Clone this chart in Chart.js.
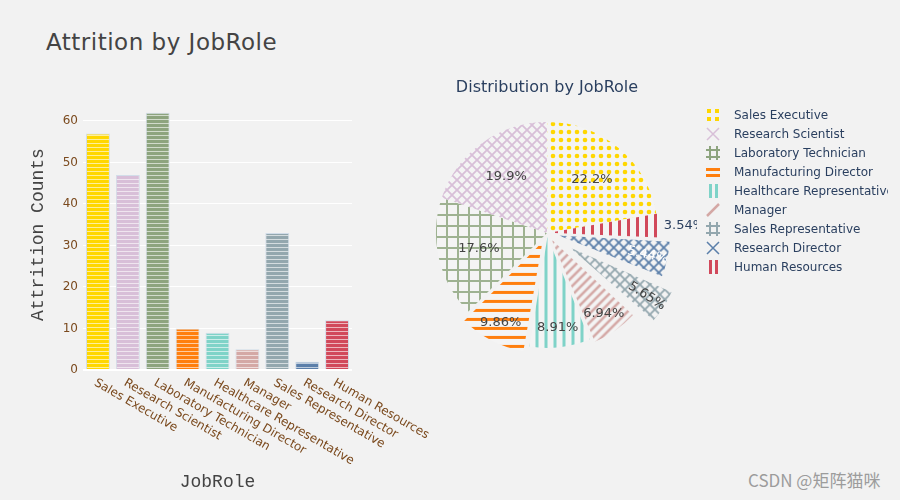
<!DOCTYPE html>
<html>
<head>
<meta charset="utf-8">
<script src="https://cdn.jsdelivr.net/npm/chart.js@4.4.0/dist/chart.umd.min.js"></script>
<style>
body{margin:0;width:900px;height:500px;background:#f2f2f2;position:relative;overflow:hidden;font-family:"DejaVu Sans",sans-serif}
#titulo{position:absolute;left:46px;top:29px;font:23px/26px "Comic Sans MS","DejaVu Sans",sans-serif;letter-spacing:0.5px;color:#444}
#barras{position:absolute;left:0;top:0}
#pastel{position:absolute;left:397px;top:0}
#tituloPie{position:absolute;left:397px;width:300px;top:78px;text-align:center;font:16px/18px "DejaVu Sans";color:#2a3f5f}
#leyenda{position:absolute;left:706px;top:105px;width:182px;overflow:hidden}
.fila{height:19px;display:flex;align-items:center;white-space:nowrap;font:12px "DejaVu Sans";color:#2a3f5f}
.fila canvas{margin-right:14px;flex:none}
#marca{position:absolute;left:748px;top:469px;font:17px/22px "Noto Sans CJK SC",sans-serif;color:#9c9c9c}
</style>
</head>
<body>
<div id="titulo">Attrition by JobRole</div>
<canvas id="barras" width="450" height="500"></canvas>
<canvas id="pastel" width="300" height="466"></canvas>
<div id="tituloPie">Distribution by JobRole</div>
<div id="leyenda"></div>
<div id="marca">CSDN @矩阵猫咪</div>
<script>
// datos
const roles = ["Sales Executive", "Research Scientist", "Laboratory Technician", "Manufacturing Director",
  "Healthcare Representative", "Manager", "Sales Representative", "Research Director", "Human Resources"]
const attrition = [57, 47, 62, 10, 9, 5, 33, 2, 12]
const empleados = [326, 292, 259, 145, 131, 102, 83, 80, 52]
const yTicks = [0, 10, 20, 30, 40, 50, 60]

// estilos
const colores = ["#FFD700", "#D8BFD8", "#8DA47E", "#FF7F0E", "#7FD3C8", "#D4A8A5", "#93A7AE", "#5B7FAA", "#D1495B"]
const formas = [".", "x", "+", "-", "|", "/", "x", "x", "|"]
const iconos = [".", "x", "+", "-", "|", "/", "+", "x", "|"]
const pullPx = [0, 0, 0, 10, 4, 8, 27, 12, 2]
// el pastel va en sentido horario desde las 12
const ordenPie = [0, 8, 7, 6, 5, 4, 3, 2, 1]
const marron = "#7b4a1e"

function mezcla(hex, a) {
  let r = parseInt(hex.slice(1, 3), 16), g = parseInt(hex.slice(3, 5), 16), b = parseInt(hex.slice(5, 7), 16)
  r = Math.round(r + (255 - r) * a); g = Math.round(g + (255 - g) * a); b = Math.round(b + (255 - b) * a)
  return `rgb(${r},${g},${b})`
}

// rayas horizontales de las barras
function rayas(color) {
  let c = document.createElement("canvas")
  c.width = 4; c.height = 4
  let x = c.getContext("2d")
  x.fillStyle = color
  x.fillRect(0, 0, 4, 4)
  x.fillStyle = mezcla(color, 0.6)
  x.fillRect(0, 3, 4, 1)
  return x.createPattern(c, "repeat")
}

function patron(forma, color) {
  let s = forma == "." ? 8 : (forma == "x" ? 10 : (forma == "+" ? 11 : 9))
  let c = document.createElement("canvas")
  c.width = s; c.height = s
  let x = c.getContext("2d")
  x.fillStyle = "#f4f4f4"
  x.fillRect(0, 0, s, s)
  x.fillStyle = color
  x.strokeStyle = color
  if (forma == ".") {
    x.beginPath(); x.arc(s / 2, s / 2, 2.3, 0, Math.PI * 2); x.fill()
  } else if (forma == "-") {
    x.fillRect(0, 3, s, 3)
  } else if (forma == "|") {
    x.fillRect(3, 0, 3, s)
  } else if (forma == "+") {
    x.fillStyle = mezcla(color, 0.15)
    x.fillRect(0, 5, s, 2); x.fillRect(5, 0, 2, s)
  } else if (forma == "x") {
    x.lineWidth = 1.8
    x.beginPath()
    x.moveTo(-1, -1); x.lineTo(s + 1, s + 1)
    x.moveTo(-1, s + 1); x.lineTo(s + 1, -1)
    x.stroke()
  } else if (forma == "/") {
    x.lineWidth = 2.5
    x.beginPath()
    x.moveTo(-2, s + 2); x.lineTo(s + 2, -2)
    x.moveTo(-2, 2); x.lineTo(2, -2)
    x.moveTo(s - 2, s + 2); x.lineTo(s + 2, s - 2)
    x.stroke()
  }
  return x.createPattern(c, "repeat")
}

function icono(forma, color) {
  let c = document.createElement("canvas")
  c.width = 14; c.height = 14
  let x = c.getContext("2d")
  x.fillStyle = color; x.strokeStyle = color
  if (forma == ".") {
    [[1, 1], [9, 1], [1, 9], [9, 9]].forEach(p => x.fillRect(p[0], p[1], 4, 4))
  } else if (forma == "-") {
    x.fillRect(0, 3, 14, 3); x.fillRect(0, 9, 14, 3)
  } else if (forma == "|") {
    x.fillRect(3, 0, 3, 14); x.fillRect(9, 0, 3, 14)
  } else if (forma == "+") {
    x.fillRect(0, 3, 14, 2); x.fillRect(0, 10, 14, 2); x.fillRect(3, 0, 2, 14); x.fillRect(10, 0, 2, 14)
  } else if (forma == "x") {
    x.lineWidth = 1.5
    x.beginPath(); x.moveTo(1, 1); x.lineTo(13, 13); x.moveTo(1, 13); x.lineTo(13, 1); x.stroke()
  } else if (forma == "/") {
    x.lineWidth = 2.5
    x.beginPath(); x.moveTo(1, 13); x.lineTo(13, 1); x.stroke()
  }
  return c
}

// etiquetas del eje x giradas hacia abajo
const etiquetasX = {
  id: "etiquetasX",
  afterDraw(chart) {
    const { ctx, scales: { x }, chartArea } = chart
    ctx.save()
    ctx.font = '12px "DejaVu Sans"'
    ctx.fillStyle = marron
    ctx.textAlign = "left"
    ctx.textBaseline = "middle"
    roles.forEach((r, i) => {
      ctx.save()
      ctx.translate(x.getPixelForValue(i) - 3, chartArea.bottom + 12)
      ctx.rotate(30 * Math.PI / 180)
      ctx.fillText(r, 0, 0)
      ctx.restore()
    })
    ctx.restore()
  }
}

new Chart(document.getElementById("barras"), {
  type: "bar",
  data: {
    labels: roles,
    datasets: [{
      data: attrition,
      backgroundColor: colores.map(c => rayas(c)),
      borderColor: "#d2dde9",
      borderWidth: 1,
      barPercentage: 0.8,
      categoryPercentage: 1
    }]
  },
  options: {
    responsive: false,
    animation: false,
    layout: { padding: { left: 0, right: 98, top: 99, bottom: 0 } },
    plugins: { legend: { display: false }, tooltip: { enabled: false } },
    scales: {
      x: {
        grid: { display: false },
        border: { display: false },
        ticks: { display: false },
        title: { display: true, text: "JobRole", color: "#444", font: { family: "Liberation Mono", size: 18 }, padding: { top: 0, bottom: 7 } },
        afterFit: s => { s.height = 130 }
      },
      y: {
        min: 0,
        max: 65.3,
        afterBuildTicks: s => { s.ticks = yTicks.map(v => ({ value: v })) },
        ticks: { color: marron, font: { family: "DejaVu Sans", size: 12 }, padding: 5 },
        grid: { color: "#ffffff", lineWidth: c => c.tick && c.tick.value == 0 ? 2 : 1, drawTicks: false },
        border: { display: false },
        title: { display: true, text: "Attrition Counts", color: "#444", font: { family: "Liberation Mono", size: 18 }, padding: { top: 27, bottom: 0 } },
        afterFit: s => { s.width = 83 }
      }
    }
  },
  plugins: [etiquetasX]
})

// porcentajes del pastel
const etiquetasPie = {
  id: "etiquetasPie",
  beforeDatasetsDraw(chart) {
    // chart.js agranda el radio de las porciones separadas, lo compenso
    chart.getDatasetMeta(0).data.forEach(arc => {
      if (arc.$r0 === undefined) arc.$r0 = arc.outerRadius
      let off = (arc.options.offset || 0) / 4
      let c = arc.endAngle - arc.startAngle
      arc.outerRadius = arc.$r0 - off * (1 - Math.sin(Math.min(Math.PI, c)))
    })
  },
  afterDatasetsDraw(chart) {
    const ctx = chart.ctx
    const total = empleados.reduce((a, b) => a + b, 0)
    chart.getDatasetMeta(0).data.forEach((arc, j) => {
      let i = ordenPie[j]
      let pct = empleados[i] / total * 100
      let txt = Number(pct.toPrecision(3)) + "%"
      let mid = (arc.startAngle + arc.endAngle) / 2
      let pull = (arc.options.offset || 0) / 4
      let R = arc.$r0
      let cx = arc.x + Math.cos(mid) * pull, cy = arc.y + Math.sin(mid) * pull
      ctx.save()
      ctx.font = '13px "DejaVu Sans"'
      ctx.textBaseline = "middle"
      if (pct < 4) {
        ctx.fillStyle = "#2a3f5f"
        ctx.textAlign = "left"
        ctx.fillText(txt, cx + Math.cos(mid) * (R + 4), cy + Math.sin(mid) * (R + 4))
      } else {
        let k = pct > 15 ? 0.63 : 0.82
        ctx.textAlign = "center"
        ctx.fillStyle = i == 7 ? "#ffffff" : "#444"
        ctx.translate(cx + Math.cos(mid) * R * k, cy + Math.sin(mid) * R * k)
        if (pct < 6) ctx.rotate(mid)
        ctx.fillText(txt, 0, 0)
      }
      ctx.restore()
    })
  }
}

new Chart(document.getElementById("pastel"), {
  type: "pie",
  data: {
    labels: ordenPie.map(i => roles[i]),
    datasets: [{
      data: ordenPie.map(i => empleados[i]),
      backgroundColor: ordenPie.map(i => patron(formas[i], colores[i])),
      borderWidth: 0,
      offset: ordenPie.map(i => pullPx[i] * 4),
      radius: 111
    }]
  },
  options: {
    responsive: false,
    animation: false,
    layout: { padding: 0 },
    plugins: { legend: { display: false }, tooltip: { enabled: false } }
  },
  plugins: [etiquetasPie]
})

// leyenda
const leyenda = document.getElementById("leyenda")
roles.forEach((r, i) => {
  let fila = document.createElement("div")
  fila.className = "fila"
  fila.appendChild(icono(iconos[i], colores[i]))
  let t = document.createElement("span")
  t.textContent = r
  fila.appendChild(t)
  leyenda.appendChild(fila)
})
</script>
</body>
</html>
